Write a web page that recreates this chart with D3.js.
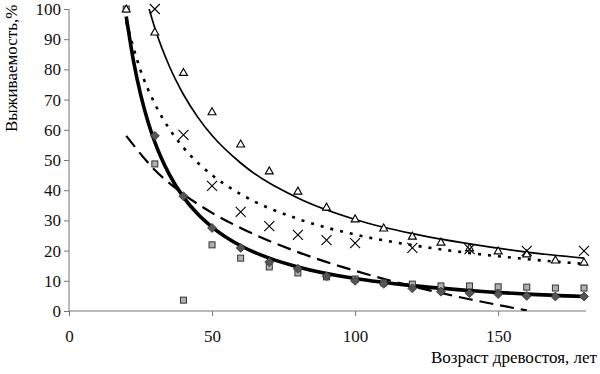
<meta charset="utf-8">
<html>
  <head>
    <style>
      body { margin: 0; background: #fff; }
    </style>
  </head>
<script src="https://d3js.org/d3.v7.min.js"></script>

<div id="my_dataviz"></div>

<script>
    // observed points (age, survival %)
    var triAge = [20, 30, 40, 50, 60, 70, 80, 90, 100, 110, 120, 130, 140, 150, 160, 170, 180]
    var triVal = [100, 92.4, 79, 66, 55.3, 46.4, 39.7, 34.4, 30.5, 27.5, 24.8, 22.8, 20.9, 19.9, 18.9, 16.9, 16.2]

    var crossAge = [30, 40, 50, 60, 70, 80, 90, 100, 120, 140, 160, 180]
    var crossVal = [100, 58.3, 41.4, 32.8, 28.1, 25.2, 23.5, 22.5, 20.9, 20.5, 19.9, 19.9]

    var sqAge = [20, 30, 40, 50, 60, 70, 80, 90, 100, 110, 120, 130, 140, 150, 160, 170, 180]
    var sqVal = [100, 48.7, 3.6, 21.9, 17.5, 14.6, 12.6, 11.3, 10.6, 9.3, 8.9, 8.3, 8.3, 8.0, 7.9, 7.6, 7.6]

    var diaAge = [30, 40, 50, 60, 70, 80, 90, 100, 110, 120, 130, 140, 150, 160, 170, 180]
    var diaVal = [58, 38, 27.5, 20.9, 16.2, 14, 11.5, 10, 9, 7.5, 6.4, 5.9, 5.6, 5.0, 4.8, 4.8]

    // trend lines
    var thinAge = [28, 30, 35, 40, 45, 50, 60, 80, 100, 120, 140, 160, 180]
    var thinVal = [100, 93.7, 81.2, 71.7, 64.2, 58.1, 49.0, 37.4, 30.3, 25.6, 22.2, 19.5, 17.5]

    var dotAge = [20, 25, 30, 35, 40, 50, 60, 80, 100, 120, 140, 160, 180]
    var dotVal = [95.8, 79.7, 68.6, 60.4, 54.1, 45.0, 38.7, 30.5, 25.3, 21.8, 19.2, 17.2, 15.6]

    var thickAge = [20, 22.5, 25, 27.5, 30, 35, 40, 45, 50, 60, 70, 80, 100, 120, 140, 160, 180]
    var thickVal = [97.5, 83.0, 71.8, 63.0, 55.9, 45.3, 37.7, 32.1, 27.8, 21.6, 17.5, 14.6, 10.75, 8.4, 6.8, 5.6, 4.8]

    var dashAge = [20, 30, 40, 50, 60, 80, 100, 120, 140, 160]
    var dashVal = [58, 46.7, 38.7, 32.5, 27.5, 19.5, 13.3, 8.2, 3.9, 0.2]

    var xTicks = [0, 50, 100, 150]
    var yTicks = [0, 10, 20, 30, 40, 50, 60, 70, 80, 90, 100]

    var width = 600, height = 374
    var serif = "'Liberation Serif', 'Times New Roman', serif"

    var svg = d3.select("#my_dataviz")
      .append("svg")
        .attr("width", width)
        .attr("height", height)
        .style("font-family", serif)

    var x = d3.scaleLinear().domain([0, 180]).range([69, 584])
    var y = d3.scaleLinear().domain([0, 100]).range([311, 9])

    // axes
    var xAxis = svg.append("g")
      .attr("transform", "translate(0," + y(0) + ")")
      .call(d3.axisBottom(x).tickValues(xTicks).tickSize(5).tickPadding(14))
    xAxis.attr("font-family", serif).attr("font-size", 17)
    xAxis.select(".domain").attr("d", "M" + x(0) + ",0H" + (x(180) + 2)).attr("stroke", "#777")
    xAxis.selectAll(".tick line").attr("stroke", "#777")
    xAxis.selectAll("text").attr("fill", "#111")

    var yAxis = svg.append("g")
      .attr("transform", "translate(" + x(0) + ",0)")
      .call(d3.axisLeft(y).tickValues(yTicks).tickSize(5).tickPadding(3))
    yAxis.attr("font-family", serif).attr("font-size", 17)
    yAxis.select(".domain").attr("d", "M0," + y(0) + "V" + y(100)).attr("stroke", "#777")
    yAxis.selectAll(".tick line").attr("stroke", "#777")
    yAxis.selectAll("text").attr("fill", "#111")

    // axis titles
    svg.append("text")
      .attr("x", 597).attr("y", 363)
      .attr("text-anchor", "end")
      .attr("font-family", serif)
      .attr("font-size", 17)
      .text("Возраст древостоя, лет")

    svg.append("text")
      .attr("transform", "translate(17,132) rotate(-90)")
      .attr("text-anchor", "start")
      .attr("font-family", serif)
      .attr("font-size", 17)
      .text("Выживаемость,%")

    // clip to plot area
    svg.append("clipPath").attr("id", "plot")
      .append("rect").attr("x", x(0)).attr("y", y(100)).attr("width", x(180) - x(0) + 6).attr("height", y(0) - y(100))

    var line = d3.line()
      .x(function(d) { return x(d[0]) })
      .y(function(d) { return y(d[1]) })
      .curve(d3.curveMonotoneX)

    function pairs(a, b) { return a.map(function(v, i) { return [v, b[i]] }) }

    var lines = svg.append("g").attr("clip-path", "url(#plot)")

    lines.append("path").datum(pairs(thinAge, thinVal))
      .attr("d", line).attr("fill", "none").attr("stroke", "#000").attr("stroke-width", 1.7)

    lines.append("path").datum(pairs(dotAge, dotVal))
      .attr("d", line).attr("fill", "none").attr("stroke", "#000").attr("stroke-width", 2.6)
      .attr("stroke-dasharray", "3,7")

    lines.append("path").datum(pairs(dashAge, dashVal))
      .attr("d", line).attr("fill", "none").attr("stroke", "#000").attr("stroke-width", 2.2)
      .attr("stroke-dasharray", "14,7")

    lines.append("path").datum(pairs(thickAge, thickVal))
      .attr("d", line).attr("fill", "none").attr("stroke", "#000").attr("stroke-width", 3.6)

    // markers
    var pts = svg.append("g")

    pts.selectAll(".sq").data(pairs(sqAge, sqVal)).enter()
      .append("rect").attr("class", "sq")
        .attr("x", function(d) { return x(d[0]) - 3 })
        .attr("y", function(d) { return y(d[1]) - 3 })
        .attr("width", 6).attr("height", 6)
        .attr("fill", "#b0b0b0").attr("stroke", "#333").attr("stroke-width", 1)

    pts.selectAll(".dia").data(pairs(diaAge, diaVal)).enter()
      .append("path").attr("class", "dia")
        .attr("transform", function(d) { return "translate(" + x(d[0]) + "," + y(d[1]) + ")" })
        .attr("d", "M0,-4.5L4.5,0L0,4.5L-4.5,0Z")
        .attr("fill", "#555").attr("stroke", "#333").attr("stroke-width", 0.8)

    pts.selectAll(".tri").data(pairs(triAge, triVal)).enter()
      .append("path").attr("class", "tri")
        .attr("transform", function(d) { return "translate(" + x(d[0]) + "," + y(d[1]) + ")" })
        .attr("d", "M0,-4L4,3L-4,3Z")
        .attr("fill", "#fff").attr("stroke", "#000").attr("stroke-width", 1.1)

    pts.selectAll(".cross").data(pairs(crossAge, crossVal)).enter()
      .append("path").attr("class", "cross")
        .attr("transform", function(d) { return "translate(" + x(d[0]) + "," + y(d[1]) + ")" })
        .attr("d", "M-5,-5L5,5M-5,5L5,-5")
        .attr("fill", "none").attr("stroke", "#000").attr("stroke-width", 1.1)
</script>
</html>
